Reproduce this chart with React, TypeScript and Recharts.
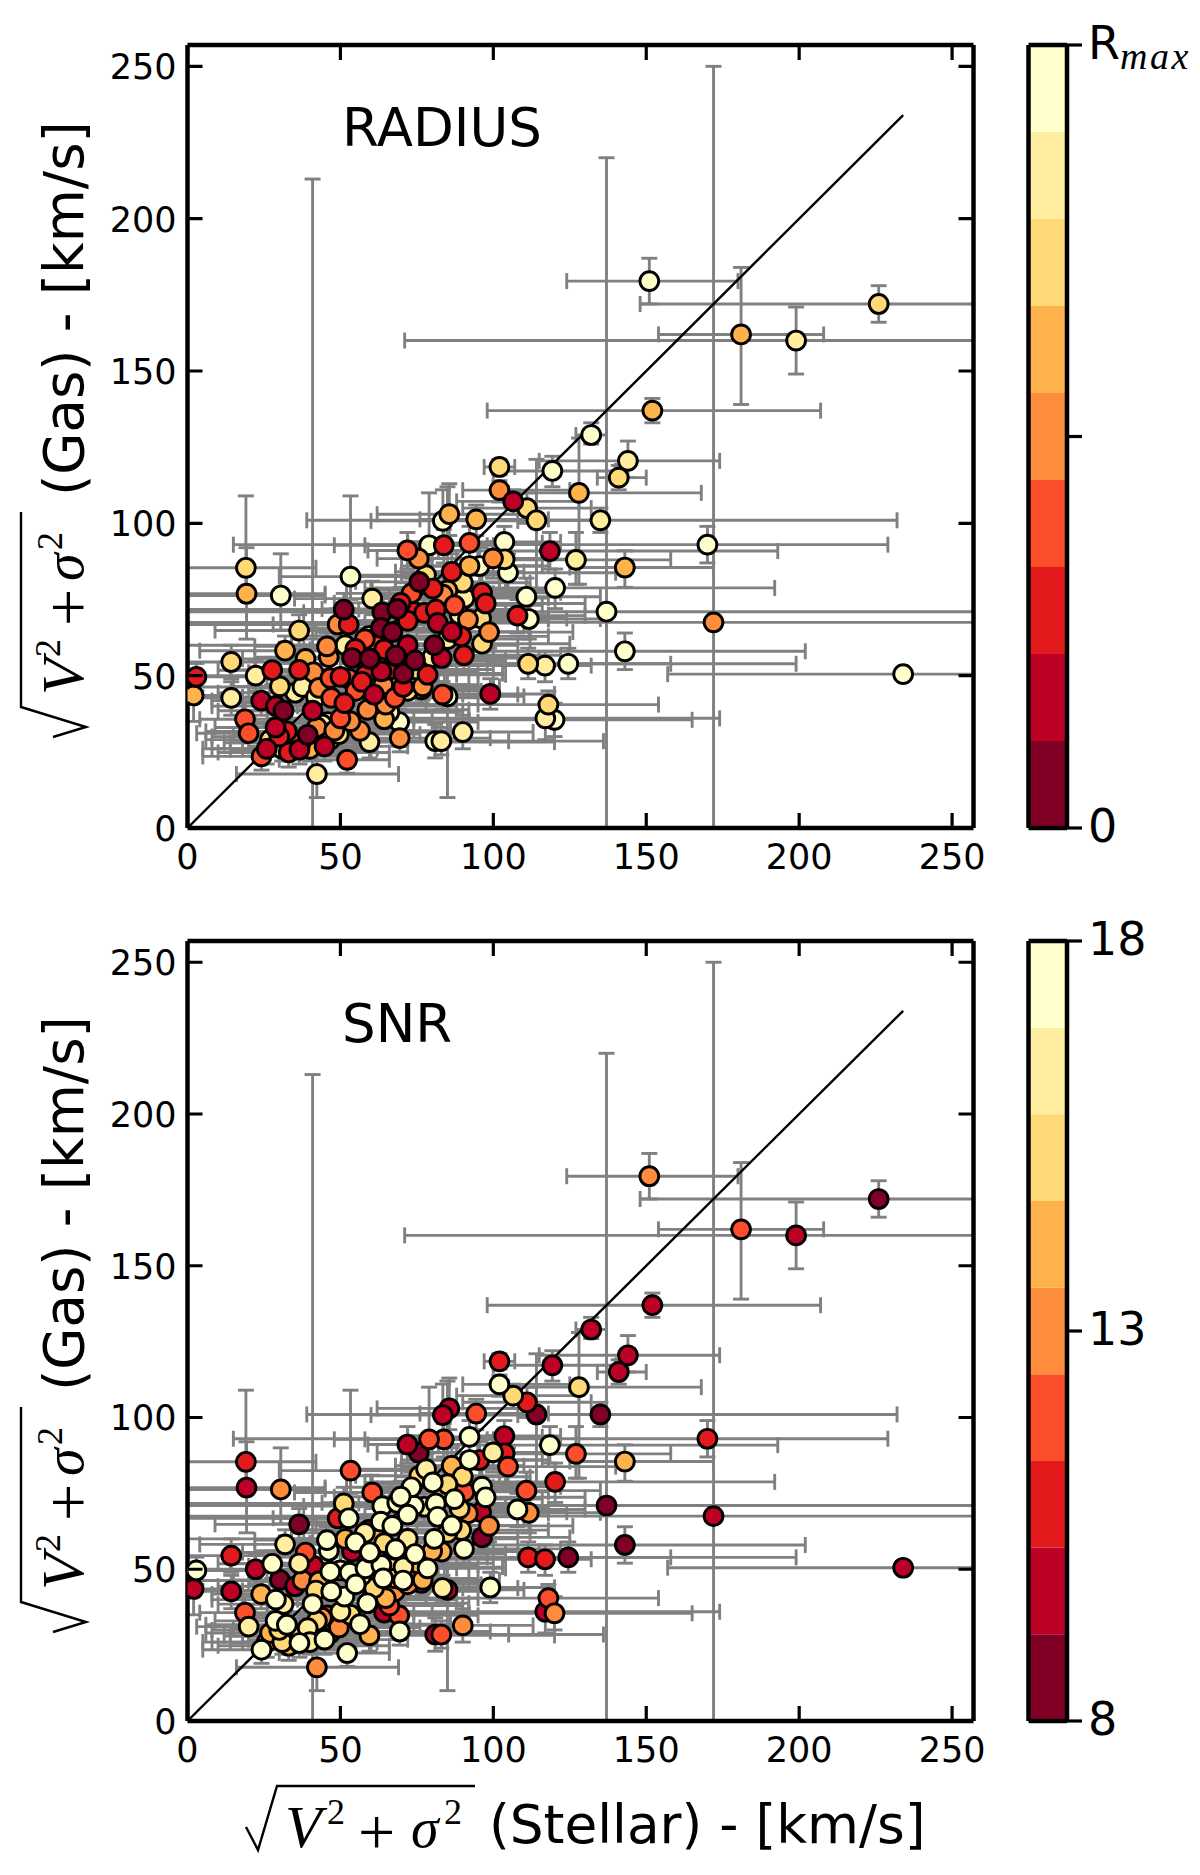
import React from "react";
import {
  ScatterChart, Scatter, XAxis, YAxis, ErrorBar, ReferenceLine,
  BarChart, Bar,
} from "recharts";

const bandColors = ["#800026", "#bd0026", "#e31a1c", "#fc4e2a", "#fd8d3c", "#feb24c", "#fed976", "#ffeda0", "#ffffcc"];
const axisTicks = [0, 50, 100, 150, 200, 250];
const xMax = 257;
const yMax = 257;
const lineEnd = 234;

const stellar = [
  36.5,31.9,14.3,2.9,2,14.3,22.3,27.7,30.2,35.2,
  36.5,38.6,41.2,37.6,24.1,18.8,20,31.4,28.8,28.9,
  40.9,32.5,25.9,24.2,39.3,36.6,33.1,44.8,42.3,45.8,
  49.5,46.7,42.3,52.2,59.5,56.4,53.3,69.2,69.4,64.3,
  58.8,64.8,67.8,70.5,61,51.3,47,50,46.7,53,
  58.2,63.4,70.6,53.8,59.7,68.1,54.9,46.2,45.6,51.6,
  51.1,52.7,49.1,63.7,63.2,67,68.6,60.4,64.3,59.3,
  102,102,106.5,111,114.1,119.3,85.6,83.5,94.4,92.2,
  83.8,79,71.9,75.6,103.6,118.5,99.9,103.7,104.8,120.2,
  92.2,95.5,86.4,75.8,90,80.2,83.5,73.2,87.3,53.3,
  110.8,107.9,111.6,96.3,97.5,90.6,74.1,69.7,77.4,81.2,
  81.8,91.7,96,98.6,96.3,86.4,89.5,80.7,83.1,90.4,
  68.1,74.4,59.6,111.4,116.9,124.5,151,226,181,199,
  152,132,144,141,128,135,127,143,170,172,
  137,143,234,118,117,120,99,90,81,83,
  83.4,85,78.5,76.9,76.5,66,72,62,55,19.1,19.3,30.5,
  44,35,31,40,37,48,27,60,66,72,
  75,68,64,80,85,89,85,78,72,58,
  57,43,42,30,50,
];
const gas = [
  64.8,58.2,54.5,49.6,43.5,42.7,50,51.8,46.5,44.4,
  51.9,55.5,51.1,46.3,41.8,35.7,31.1,38.5,33,40,
  38.5,31.7,26,23.5,30.6,25.7,24.8,26.8,33,34.8,
  30.8,29,17.7,22.4,28.2,31.9,35,34.8,29.5,35.7,
  38.8,40.5,42.7,46.3,43.8,41,42.7,49.6,49.2,48.9,
  50.3,51.4,50.7,55.8,55.5,56.4,58.8,56.1,59.6,60,
  71.7,66.8,66.8,70.8,65.7,64.3,71.9,75.3,58.6,63,
  118.5,110.9,107.2,105,101,117.2,103,100.8,101.3,93.6,
  92.8,92.8,91.1,88.4,93.9,90.9,88.5,88.2,83.8,78.8,
  86,86,84.1,80.8,80.5,78.6,76.6,77,73.1,82.5,
  75.9,69.7,68.6,77.2,73.7,75.5,70.9,73.9,70.6,71.7,
  67.3,68.4,68.8,64.3,60.5,64.4,62.9,60,55.8,56.7,
  56.6,55,55.6,53.9,53.3,53.9,179.5,172,162,160,
  137,129,120.5,115,110,101,88,85.5,93,67.5,
  71,58,50.5,40.5,36,35.5,44,31.5,28.5,28.5,
  43.8,43.2,50.3,46.5,45.5,52,60,60,45,85.4,76.9,76.3,
  34,28,26,26,28,32,29,40,38,45,
  52,47,47,56,62,70,78,83,68,62,
  48,46,43,30,36,
];
const radiusBin = [
  6,5,6,2,5,7,7,2,6,7,
  2,5,4,7,1,3,3,0,1,1,
  1,2,1,3,0,1,2,1,4,7,
  6,7,7,3,7,4,4,8,4,5,
  4,4,3,2,1,2,3,2,3,3,
  2,1,0,0,0,0,2,4,4,7,
  0,2,4,0,0,0,0,7,2,7,
  6,4,1,6,6,8,5,8,5,3,
  2,8,3,4,8,1,4,6,8,8,
  5,8,2,0,6,2,4,3,3,8,
  8,2,8,2,2,7,2,2,2,2,
  1,4,6,4,6,1,2,0,1,2,
  0,0,0,6,7,8,8,6,5,7,
  5,8,7,6,5,7,7,5,8,4,
  8,8,8,6,7,8,1,7,8,7,
  3,8,2,4,7,2,1,3,3,6,5,8,
  7,5,6,5,3,4,6,5,7,6,
  6,5,4,7,7,7,5,6,2,3,
  2,4,7,2,3,
];
const snrBin = [
  0,7,2,8,1,1,1,8,0,1,
  7,3,1,4,5,3,7,7,8,8,
  8,8,5,8,7,8,5,8,6,3,
  4,3,4,8,5,8,6,3,8,1,
  8,5,4,8,6,8,8,8,8,8,
  8,8,7,1,8,8,8,8,8,5,
  6,8,2,8,8,8,8,3,6,1,
  2,8,6,2,0,1,1,1,3,8,
  3,3,1,0,1,8,7,2,3,2,
  8,2,5,6,6,8,5,8,8,3,
  3,8,4,8,8,3,8,8,7,8,
  8,4,1,4,0,8,6,8,5,8,
  8,8,8,2,2,0,4,0,3,1,
  1,1,1,1,6,0,3,5,2,1,
  0,0,1,3,1,4,8,4,1,3,
  7,1,8,5,4,6,7,5,8,2,1,4,
  4,5,6,7,6,3,5,4,3,4,
  5,6,8,5,6,6,6,7,8,7,
  7,5,6,6,7,
];
const stellarLow = [
  9,4,0,0,0,0,2,10,15,10,
  14,18,20,0,8,4,3,10,9,8,
  18,6,5,5,15,14,10,20,17,22,
  26,24,16,30,36,30,28,45,44,38,
  34,40,44,46,38,28,22,26,24,30,
  34,38,46,30,36,44,30,22,22,0,
  0,28,0,38,38,42,44,35,40,34,
  97,90,88,90,96,100,62,60,76,72,
  48,58,59,62,92,82,80,88,70,60,
  70,76,68,55,68,58,62,52,64,30,
  88,85,90,72,72,66,52,48,54,56,
  58,66,70,75,72,62,66,58,58,66,
  44,50,34,60,85,98,124,148,154,71,
  98,127,115,134,105,39,95,125,15,0,
  0,80,157,60,65,92,76,58,28,32,
  60,62,54,52,54,42,48,38,32,0,0,0,
  20,12,8,18,14,26,6,36,42,48,
  50,44,40,56,60,64,60,54,48,34,
  33,20,18,8,26,
];
const stellarHigh = [
  58,60,39,28,14,37,47,50,62,66,
  58,64,67,60,42,44,38,52,48,48,
  64,62,48,52,62,60,66,72,66,70,
  76,72,69,66,120,86,80,95,99,92,
  92,95,98,100,90,78,70,78,72,82,
  88,95,103,82,90,100,84,70,72,80,
  78,82,74,95,92,98,100,90,96,88,
  107,125,128,132,134,140,110,108,118,116,
  100,98,95,98,122,193,118,125,140,192,
  118,116,110,102,112,104,108,100,116,76,
  135,130,135,122,130,118,100,100,104,112,
  110,118,124,126,125,112,118,108,115,122,
  98,104,88,199,132,158,180,300,208,300,
  207,137,174,150,168,232,158,172,229,300,
  300,202,300,154,174,165,120,113,136,105,
  108,110,104,102,100,92,100,90,80,42,45,45,
  70,58,55,62,60,74,50,88,90,96,
  100,95,92,108,112,118,112,105,100,86,
  84,66,66,52,74,
];
const gasLow = [
  60,54,49,45,35,37,45,47,42,40,
  47,50,46,41,37,30,26,33,28,35,
  0,27,21,19,26,21,20,22,28,30,
  26,24,10,18,23,27,30,30,25,31,
  34,36,38,41,39,36,38,44,44,44,
  45,46,46,51,50,51,54,51,55,55,
  66,62,62,65,60,59,66,70,54,58,
  116,107,103,100,78,112,96,95,96,88,
  87,75,85,82,88,85,82,82,78,72,
  80,80,78,75,75,73,71,72,68,75,
  70,64,62,72,68,70,65,68,65,66,
  62,63,63,59,55,59,58,55,51,52,
  51,50,50,49,48,49,172,166,139,149,
  133,126,115,111,80,97,80,79,87,0,
  0,52,49.5,36,29,30,39,26,23,24,
  39,10,46,42,41,47,55,55,40,79,62,65,
  29,24,22,22,24,28,25,36,34,41,
  47,42,42,51,57,65,73,78,63,57,
  43,41,38,26,31,
];
const gasHigh = [
  70,63,60,54,50,48,55,56,52,49,
  57,60,56,51,46,41,36,44,38,45,
  213,36,31,28,35,30,29,31,38,39,
  35,34,25,27,33,36,40,39,34,40,
  44,45,47,51,48,46,47,55,54,54,
  55,56,55,61,60,62,64,61,64,65,
  77,72,72,76,71,70,77,81,63,68,
  121,114,111,110,121,122,113,111,106,99,
  98,110,97,94,99,97,94,94,90,85,
  92,92,90,87,86,84,82,82,78,109,
  82,75,75,83,79,81,76,79,76,77,
  73,74,74,70,66,70,68,65,61,62,
  62,60,61,59,58,59,187,178,184,171,
  141,133,127,119,128,105,97,91,99,250,
  220,64,51.5,45,41,41,49,37,34,33,
  48,112,55,51,50,57,65,65,50,109,92,90,
  39,33,30,31,32,37,34,45,43,50,
  57,52,52,61,67,76,84,88,74,67,
  53,51,48,35,41,
];

const rows = stellar.map((x, i) => ({
  x,
  y: gas[i],
  radius: radiusBin[i],
  snr: snrBin[i],
  xErr: [x - stellarLow[i], Math.min(stellarHigh[i], xMax) - x],
  yErr: [gas[i] - gasLow[i], gasHigh[i] - gas[i]],
}));
const radiusRows = [...rows].sort((a, b) => b.radius - a.radius).map((r) => ({ ...r, bin: r.radius }));
const snrRows = [...rows].sort((a, b) => a.snr - b.snr).map((r) => ({ ...r, bin: r.snr }));

const bandRow = [Object.fromEntries(bandColors.map((_, i) => ["band" + i, 1]))];
const barTicks = [0, 4.5, 9];
const snrBarLabels = ["8", "13", "18"];

const tickMarks = [
  ...axisTicks.map((t) => ({ x: t, y: 0, dx: 0, dy: -1 })),
  ...axisTicks.map((t) => ({ x: t, y: yMax, dx: 0, dy: 1 })),
  ...axisTicks.map((t) => ({ x: 0, y: t, dx: 1, dy: 0 })),
  ...axisTicks.map((t) => ({ x: xMax, y: t, dx: -1, dy: 0 })),
];

const SANS = "DejaVu Sans";
const SERIF = "Liberation Serif";
const TICK = 15;
const LINE = { stroke: "#000", strokeWidth: 4.5 };
const TICKLINE = { stroke: "#000", strokeWidth: 3.2 };

const Dot = (p: any) => (
  <circle cx={p.cx} cy={p.cy} r={9.4} fill={bandColors[p.payload.bin]} stroke="#000" strokeWidth={2.9} />
);
const TickMark = (p: any) => (
  <line x1={p.cx} y1={p.cy} x2={p.cx + p.payload.dx * TICK} y2={p.cy + p.payload.dy * TICK} stroke="#000" strokeWidth={3.2} />
);
const NoLabel = () => <g />;

const BottomLabel = (p: any) => (
  <text x={p.x} y={p.y + 41} textAnchor="middle" fontFamily={SANS} fontSize={35} fill="#000">{p.payload.value}</text>
);
const LeftLabel = (p: any) => (
  <text x={p.x - 11} y={p.y + 13} textAnchor="end" fontFamily={SANS} fontSize={35} fill="#000">{p.payload.value}</text>
);

const YTitle = ({ base }: { base: number }) => (
  <g transform={`translate(83,${base}) rotate(-90)`} fill="#000">
    <path d="M0,-30 L10,3 L30,-62 L225,-62" fill="none" stroke="#000" strokeWidth={2.4} />
    <text x={42} y={0} fontFamily={SERIF} fontStyle="italic" fontSize={60}>V</text>
    <text x={80} y={-23} fontFamily={SERIF} fontSize={36}>2</text>
    <text x={111} y={7} fontFamily={SERIF} fontSize={66}>+</text>
    <text x={156} y={0} fontFamily={SERIF} fontStyle="italic" fontSize={56}>σ</text>
    <text x={187} y={-21} fontFamily={SERIF} fontSize={36}>2</text>
    <text x={241} y={0} fontFamily={SANS} fontSize={54.5}>(Gas) - [km/s]</text>
  </g>
);

const XTitle = ({ offset }: { offset: number }) => (
  <g transform={`translate(0,${-offset})`} fill="#000">
    <path d="M246,1827 L258,1850 L277,1786 L475,1786" fill="none" stroke="#000" strokeWidth={2.4} />
    <text x={285} y={1847} fontFamily={SERIF} fontStyle="italic" fontSize={60}>V</text>
    <text x={327} y={1824} fontFamily={SERIF} fontSize={36}>2</text>
    <text x={358} y={1854} fontFamily={SERIF} fontSize={66}>+</text>
    <text x={411} y={1847} fontFamily={SERIF} fontStyle="italic" fontSize={56}>σ</text>
    <text x={444} y={1824} fontFamily={SERIF} fontSize={36}>2</text>
    <text x={489} y={1843} fontFamily={SANS} fontSize={53.3}>(Stellar) - [km/s]</text>
  </g>
);

const Panel = ({ data, width, height, top, plotTop, plotBottom, name, labelY, titleBase, children }: any) => (
  <div style={{ position: "absolute", left: 0, top, width, height }}>
    <ScatterChart
      width={width}
      height={height}
      margin={{ left: 186.5, right: width - 973.5, top: plotTop - top - 1, bottom: height - (plotBottom - top) - 1 }}
    >
      <Scatter data={data} isAnimationActive={false} shape={Dot}>
        <ErrorBar dataKey="xErr" direction="x" width={8} stroke="#808080" strokeWidth={2.9} isAnimationActive={false} />
        <ErrorBar dataKey="yErr" direction="y" width={8} stroke="#808080" strokeWidth={2.9} isAnimationActive={false} />
      </Scatter>
      <Scatter data={tickMarks} isAnimationActive={false} shape={TickMark} />
      <ReferenceLine segment={[{ x: 0, y: 0 }, { x: lineEnd, y: lineEnd }]} stroke="#000" strokeWidth={2.4} />
      <XAxis dataKey="x" type="number" domain={[0, xMax]} ticks={axisTicks} allowDataOverflow interval={0}
        height={1} tickSize={0} tickMargin={0} tickLine={false} tick={BottomLabel} axisLine={LINE} />
      <YAxis dataKey="y" type="number" domain={[0, yMax]} ticks={axisTicks} allowDataOverflow interval={0}
        width={1} tickSize={0} tickMargin={0} tickLine={false} tick={LeftLabel} axisLine={LINE} />
      <XAxis xAxisId="top" orientation="top" type="number" domain={[0, xMax]} ticks={axisTicks} allowDataOverflow interval={0}
        height={1} tickSize={0} tickMargin={0} tickLine={false} tick={NoLabel} axisLine={LINE} />
      <YAxis yAxisId="right" orientation="right" mirror type="number" domain={[0, yMax]} ticks={axisTicks} allowDataOverflow interval={0}
        width={1} tickSize={0} tickLine={false} tick={NoLabel} axisLine={LINE} />
      <text x={342} y={labelY - top} fontFamily={SANS} fontSize={53} fill="#000">{name}</text>
      <YTitle base={titleBase - top} />
      {children}
    </ScatterChart>
  </div>
);

const ColorBar = ({ top, height, plotTop, plotBottom, tick }: any) => (
  <div style={{ position: "absolute", left: 1000, top, width: 200, height }}>
    <BarChart
      width={200}
      height={height}
      data={bandRow}
      barCategoryGap={0}
      margin={{ left: 27.5, right: 132, top: plotTop - top - 1, bottom: height - (plotBottom - top) - 1 }}
    >
      {bandColors.map((c, i) => (
        <Bar key={c} dataKey={"band" + i} stackId="bar" fill={c} isAnimationActive={false} />
      ))}
      <XAxis dataKey={() => "bar"} height={1} tick={false} tickLine={false} axisLine={LINE} />
      <XAxis xAxisId="top" orientation="top" dataKey={() => "bar"} height={1} tick={false} tickLine={false} axisLine={LINE} />
      <YAxis type="number" domain={[0, 9]} allowDataOverflow width={1} tick={false} tickLine={false} axisLine={LINE} />
      <YAxis yAxisId="right" orientation="right" type="number" domain={[0, 9]} allowDataOverflow ticks={barTicks} interval={0}
        width={1} tickSize={TICK} tickMargin={6} tickLine={TICKLINE} axisLine={LINE} tick={tick} />
    </BarChart>
  </div>
);

const RadiusBarTick = (p: any) =>
  p.index === 0 ? (
    <text x={p.x} y={p.y + 14} fontFamily={SANS} fontSize={46} fill="#000">0</text>
  ) : p.index === 2 ? (
    <text x={p.x} y={p.y + 14} fill="#000">
      <tspan fontFamily={SANS} fontSize={46}>R</tspan>
      <tspan fontFamily={SERIF} fontStyle="italic" fontSize={38} letterSpacing={2.5} dy={10}>max</tspan>
    </text>
  ) : (
    <g />
  );
const SnrBarTick = (p: any) => (
  <text x={p.x} y={p.y + 14} fontFamily={SANS} fontSize={46} fill="#000">{snrBarLabels[p.index]}</text>
);

export default function App() {
  return (
    <div style={{ position: "absolute", left: 0, top: 0, width: 1200, height: 1875, background: "#fff" }}>
      <Panel data={radiusRows} width={1000} height={880} top={0} plotTop={45} plotBottom={828}
        name="RADIUS" labelY={146} titleBase={737} />
      <Panel data={snrRows} width={1000} height={985} top={890} plotTop={941} plotBottom={1721}
        name="SNR" labelY={1042} titleBase={1632}>
        <XTitle offset={890} />
      </Panel>
      <ColorBar top={0} height={880} plotTop={45} plotBottom={828} tick={RadiusBarTick} />
      <ColorBar top={890} height={985} plotTop={941} plotBottom={1721} tick={SnrBarTick} />
    </div>
  );
}
